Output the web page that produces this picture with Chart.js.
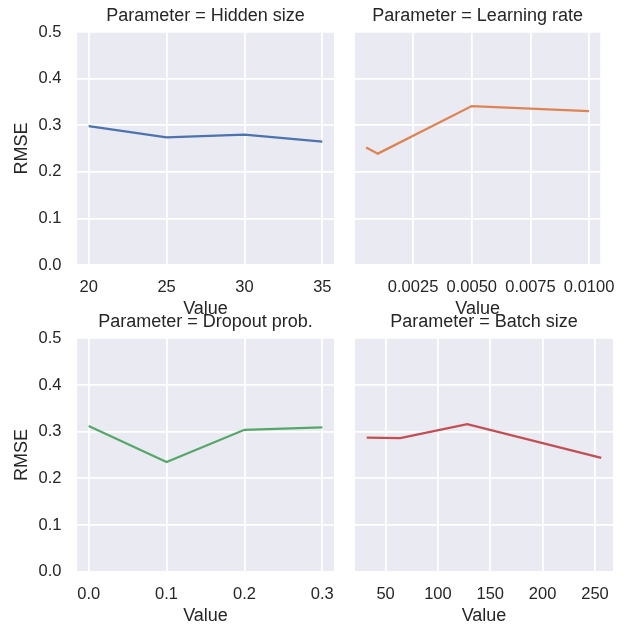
<!DOCTYPE html>
<html>
<head>
<meta charset="utf-8">
<script src="https://cdn.jsdelivr.net/npm/chart.js@4"></script>
<style>
  html, body { margin: 0; padding: 0; background: #ffffff; }
  #wrap { position: relative; width: 628px; height: 628px; }
  #wrap canvas { position: absolute; left: 0; top: 0; }
</style>
</head>
<body>
<div id="wrap">
  <canvas id="c1" width="628" height="628"></canvas>
  <canvas id="c2" width="628" height="628"></canvas>
  <canvas id="c3" width="628" height="628"></canvas>
  <canvas id="c4" width="628" height="628"></canvas>
</div>
<script>
// values
const hiddenSize = [20, 25, 30, 35];
const hiddenRmse = [0.298, 0.274, 0.280, 0.265];
const learningRate = [0.0005, 0.001, 0.005, 0.01];
const lrRmse = [0.252, 0.239, 0.341, 0.330];
const dropoutProb = [0.0, 0.1, 0.2, 0.3];
const dropoutRmse = [0.312, 0.235, 0.304, 0.309];
const batchSize = [32, 64, 128, 256];
const batchRmse = [0.287, 0.286, 0.316, 0.244];

const yTicks = [0, 0.1, 0.2, 0.3, 0.4, 0.5];
const yTickLabels = ['0.0', '0.1', '0.2', '0.3', '0.4', '0.5'];
const hiddenTicks = [20, 25, 30, 35];
const hiddenTickLabels = ['20', '25', '30', '35'];
const lrTicks = [0.0025, 0.005, 0.0075, 0.01];
const lrTickLabels = ['0.0025', '0.0050', '0.0075', '0.0100'];
const dropoutTicks = [0, 0.1, 0.2, 0.3];
const dropoutTickLabels = ['0.0', '0.1', '0.2', '0.3'];
const batchTicks = [50, 100, 150, 200, 250];
const batchTickLabels = ['50', '100', '150', '200', '250'];

const FONT = "'Liberation Sans', Arial, sans-serif";
const TEXT = '#262626';

const bgPlugin = {
  id: 'facetBg',
  beforeDraw(chart) {
    const a = chart.chartArea;
    const c = chart.ctx;
    c.save();
    c.fillStyle = '#EAEAF2';
    c.fillRect(a.left, a.top, a.right - a.left, a.bottom - a.top);
    c.restore();
  }
};

// matplotlib-like 5% margins around the data range
function pad(xs) {
  const lo = Math.min(...xs), hi = Math.max(...xs);
  const m = (hi - lo) * 0.05;
  return [lo - m, hi + m];
}

function facet(id, title, xs, ys, color, ticks, tickLabels, leftCol, topRow) {
  const [xmin, xmax] = pad(xs);
  new Chart(document.getElementById(id), {
    type: 'line',
    data: {
      datasets: [{
        data: xs.map((x, i) => ({ x: x, y: ys[i] })),
        borderColor: color,
        borderWidth: 2.25,
        pointRadius: 0,
        tension: 0,
        fill: false
      }]
    },
    options: {
      responsive: false,
      animation: false,
      events: [],
      layout: {
        padding: {
          left: leftCol ? 0 : 355,
          right: leftCol ? 294 : 15,
          top: topRow ? 0 : 306.3,
          bottom: topRow ? 308 : 1.3
        }
      },
      plugins: {
        legend: { display: false },
        tooltip: { enabled: false },
        title: {
          display: true,
          text: title,
          fullSize: false,
          color: TEXT,
          font: { family: FONT, size: 18, weight: 'normal', lineHeight: 1.2 },
          padding: { top: 5.2, bottom: 5.2 }
        }
      },
      scales: {
        x: {
          type: 'linear',
          min: xmin,
          max: xmax,
          afterBuildTicks: s => { s.ticks = ticks.map(v => ({ value: v })); },
          afterFit: s => { s.height = 55; },
          border: { display: false },
          grid: { color: '#ffffff', lineWidth: 1.8, drawTicks: false },
          ticks: {
            autoSkip: false,
            maxRotation: 0,
            padding: 12.4,
            color: TEXT,
            font: { family: FONT, size: 16.5, lineHeight: 1.2 },
            callback: (v, i) => tickLabels[i]
          },
          title: {
            display: true,
            text: 'Value',
            color: TEXT,
            padding: 0,
            font: { family: FONT, size: 18, lineHeight: 1.2 }
          }
        },
        y: {
          type: 'linear',
          min: 0,
          max: 0.5,
          afterBuildTicks: s => { s.ticks = yTicks.map(v => ({ value: v })); },
          afterFit: s => { s.width = leftCol ? 77 : 0; },
          border: { display: false },
          grid: { color: '#ffffff', lineWidth: 1.8, drawTicks: false },
          ticks: {
            display: leftCol,
            padding: 15.5,
            color: TEXT,
            font: { family: FONT, size: 16.5, lineHeight: 1.2 },
            callback: (v, i) => yTickLabels[i]
          },
          title: {
            display: leftCol,
            text: 'RMSE',
            color: TEXT,
            padding: { top: 11.2, bottom: 0 },
            font: { family: FONT, size: 18, lineHeight: 1.2 }
          }
        }
      }
    },
    plugins: [bgPlugin]
  });
}

facet('c1', 'Parameter = Hidden size', hiddenSize, hiddenRmse, '#4C72B0', hiddenTicks, hiddenTickLabels, true, true);
facet('c2', 'Parameter = Learning rate', learningRate, lrRmse, '#DD8452', lrTicks, lrTickLabels, false, true);
facet('c3', 'Parameter = Dropout prob.', dropoutProb, dropoutRmse, '#55A868', dropoutTicks, dropoutTickLabels, true, false);
facet('c4', 'Parameter = Batch size', batchSize, batchRmse, '#C44E52', batchTicks, batchTickLabels, false, false);
</script>
</body>
</html>
